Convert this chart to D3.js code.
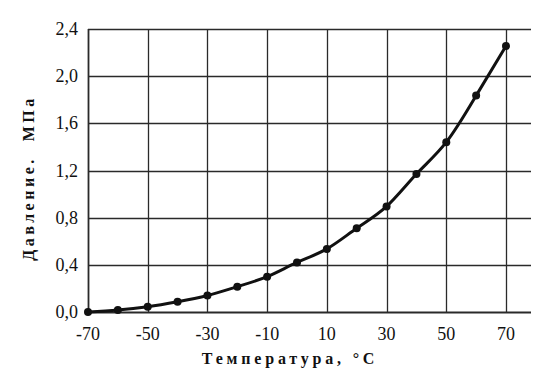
<!DOCTYPE html>
<html>
<head>
<meta charset="utf-8">
<script src="https://d3js.org/d3.v7.min.js"></script>
<style>
  body { margin: 0; background: #fff; }
  text { font-family: "Liberation Serif", "Times New Roman", serif; fill: #111; }
</style>
</head>
<body>
<svg id="vis"></svg>
<script>
  // data
  var temps = [-70, -60, -50, -40, -30, -20, -10, 0, 10, 20, 30, 40, 50, 60, 70];
  var pressure = [0.0, 0.017, 0.045, 0.087, 0.14, 0.215, 0.30, 0.42, 0.535, 0.71, 0.895, 1.17, 1.44, 1.835, 2.255];
  var xTicks = [-70, -50, -30, -10, 10, 30, 50, 70];
  var yTicks = [0, 0.4, 0.8, 1.2, 1.6, 2.0, 2.4];

  var W = 550, H = 378;
  var plotLeft = 88, plotTop = 29, plotBottom = 312, gridRight = 531;

  var svg = d3.select("#vis").attr("width", W).attr("height", H);

  var x = d3.scaleLinear().domain([-70, 70]).range([plotLeft, 506]);
  var y = d3.scaleLinear().domain([0, 2.4]).range([plotBottom, plotTop]);

  var fmt = function(v){ return d3.format(".1f")(v).replace(".", ","); };

  // horizontal grid
  svg.append("g").selectAll("line")
    .data(yTicks).enter().append("line")
    .attr("x1", plotLeft).attr("x2", gridRight)
    .attr("y1", function(d){ return Math.round(y(d)) + 0.5; })
    .attr("y2", function(d){ return Math.round(y(d)) + 0.5; })
    .attr("stroke", "#2a2a2a")
    .attr("stroke-width", function(d){ return d === 0 ? 1.8 : 1.3; });

  // vertical grid
  svg.append("g").selectAll("line")
    .data(xTicks).enter().append("line")
    .attr("x1", function(d){ return Math.round(x(d)) + 0.5; })
    .attr("x2", function(d){ return Math.round(x(d)) + 0.5; })
    .attr("y1", plotTop).attr("y2", plotBottom)
    .attr("stroke", "#2a2a2a")
    .attr("stroke-width", function(d){ return d === -70 ? 1.8 : 1.3; });

  // y tick labels
  svg.append("g").selectAll("text")
    .data(yTicks).enter().append("text")
    .attr("x", 78)
    .attr("y", function(d){ return y(d) + 6; })
    .attr("text-anchor", "end")
    .attr("font-size", 18)
    .text(fmt);

  // x tick labels
  svg.append("g").selectAll("text")
    .data(xTicks).enter().append("text")
    .attr("x", function(d){ return x(d); })
    .attr("y", 340)
    .attr("text-anchor", "middle")
    .attr("font-size", 18)
    .text(function(d){ return d; });

  // axis titles
  svg.append("text")
    .attr("x", 290).attr("y", 364)
    .attr("text-anchor", "middle")
    .attr("font-size", 16)
    .attr("font-weight", "bold")
    .attr("letter-spacing", 3.8)
    .text("Температура, °C");

  svg.append("text")
    .attr("transform", "translate(34,178) rotate(-90)")
    .attr("text-anchor", "middle")
    .attr("font-size", 16)
    .attr("font-weight", "bold")
    .attr("letter-spacing", 3.5)
    .attr("xml:space", "preserve")
    .text("Давление.  МПа");

  // curve
  var pts = temps.map(function(t, i){ return [t, pressure[i]]; });
  var line = d3.line()
    .x(function(d){ return x(d[0]); })
    .y(function(d){ return y(d[1]); })
    .curve(d3.curveNatural);

  svg.append("path")
    .datum(pts)
    .attr("d", line)
    .attr("fill", "none")
    .attr("stroke", "#111")
    .attr("stroke-width", 3);

  svg.append("g").selectAll("circle")
    .data(pts).enter().append("circle")
    .attr("cx", function(d){ return x(d[0]); })
    .attr("cy", function(d){ return y(d[1]); })
    .attr("r", 4)
    .attr("fill", "#111");
</script>
</body>
</html>
